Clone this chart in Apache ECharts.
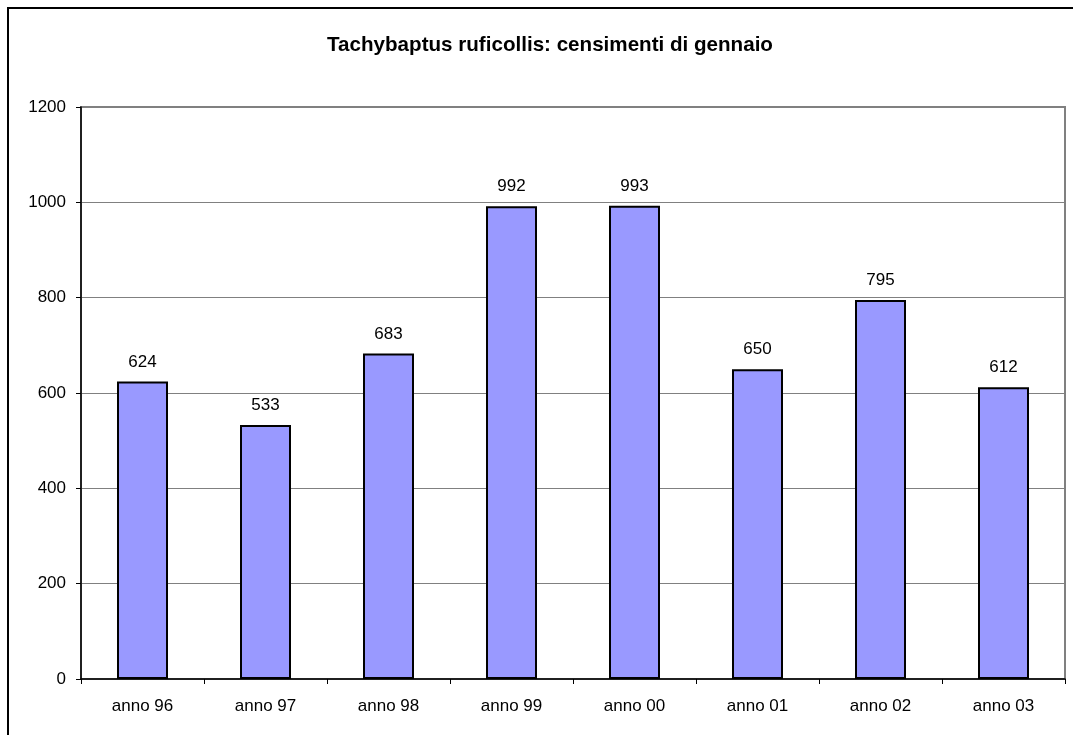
<!DOCTYPE html>
<html>
<head>
<meta charset="utf-8">
<script src="https://cdn.jsdelivr.net/npm/echarts@6/dist/echarts.min.js"></script>
<style>
  html, body { margin: 0; padding: 0; background: #fff; }
  #frame { position: absolute; left: 7px; top: 7px; width: 1100px; height: 760px; border: 2px solid #000; box-sizing: border-box; }
  #main { position: absolute; left: 0; top: 0; width: 1073px; height: 735px; }
</style>
</head>
<body>
<div id="frame"></div>
<div id="main"></div>
<script>
  const years = ['anno 96', 'anno 97', 'anno 98', 'anno 99', 'anno 00', 'anno 01', 'anno 02', 'anno 03']
  const counts = [624, 533, 683, 992, 993, 650, 795, 612]
  const yTicks = { min: 0, max: 1200, step: 200 }

  const font = 'Liberation Sans, Arial, sans-serif'
  const chart = echarts.init(document.getElementById('main'))
  chart.setOption({
    animation: false,
    textStyle: { fontFamily: font },
    title: {
      text: 'Tachybaptus ruficollis: censimenti di gennaio',
      left: 545,
      top: 30,
      textAlign: 'center',
      textStyle: { fontSize: 20.6, fontWeight: 'bold', color: '#000', fontFamily: font },
    },
    grid: {
      left: 81,
      right: 8,
      top: 107,
      bottom: 56,
      show: true,
      borderColor: '#808080',
      borderWidth: 2,
      backgroundColor: '#fff',
    },
    xAxis: {
      type: 'category',
      data: years,
      boundaryGap: true,
      axisLine: { lineStyle: { color: '#000', width: 1.5 } },
      axisTick: { show: true, length: 5, inside: false, lineStyle: { color: '#000' } },
      axisLabel: { color: '#000', fontSize: 17, margin: 19 },
    },
    yAxis: {
      type: 'value',
      min: yTicks.min,
      max: yTicks.max,
      interval: yTicks.step,
      axisLine: { show: true, lineStyle: { color: '#000', width: 1.5 } },
      axisTick: { show: true, length: 5, lineStyle: { color: '#000' } },
      axisLabel: { color: '#000', fontSize: 17, margin: 15, formatter: (v) => String(v) },
      splitLine: { show: true, lineStyle: { color: '#808080', width: 1 } },
    },
    series: [
      {
        type: 'bar',
        data: counts,
        barWidth: 51,
        itemStyle: { color: '#9999FF', borderColor: '#000', borderWidth: 2 },
        label: { show: true, position: 'top', distance: 11, color: '#000', fontSize: 17 },
      },
    ],
  })
</script>
</body>
</html>
